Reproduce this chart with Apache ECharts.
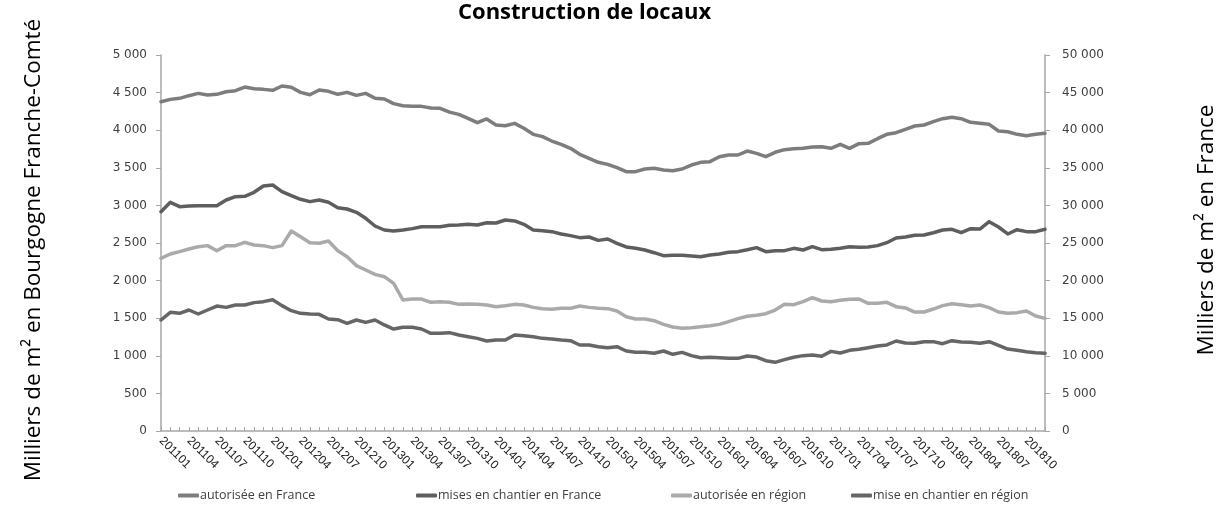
<!DOCTYPE html>
<html>
<head>
<meta charset="utf-8">
<script src="https://cdn.jsdelivr.net/npm/echarts@6/dist/echarts.min.js"></script>
<style>html,body{margin:0;padding:0;background:#fff;}#c{width:1219px;height:505px;}</style>
</head>
<body>
<div id="c"></div>
<script>
// Categories: months 201101 .. 201812
const categories = [];
for (let y = 2011; y <= 2018; y++) { for (let m = 1; m <= 12; m++) { categories.push(String(y) + (m < 10 ? '0' + m : m)); } }

const seriesNames = ['autorisée en France', 'mises en chantier en France', 'autorisée en région', 'mise en chantier en région'];

// France (right axis, milliers de m²)
const autoriseeFrance = [43790,44100,44240,44590,44900,44680,44770,45120,45260,45740,45520,45430,45300,45880,45700,45030,44720,45340,45170,44770,45030,44630,44900,44240,44150,43530,43260,43170,43170,42950,42910,42400,42110,41580,41000,41490,40690,40600,40910,40250,39450,39140,38560,38120,37590,36790,36260,35730,35460,35020,34490,34490,34840,34930,34710,34620,34840,35370,35730,35820,36480,36700,36700,37230,36920,36480,37060,37410,37540,37590,37770,37810,37590,38120,37590,38210,38250,38870,39450,39670,40110,40560,40690,41130,41530,41710,41530,41050,40910,40780,39890,39800,39450,39270,39450,39580];
const chantierFrance = [29170,30410,29830,29920,29960,29960,29960,30720,31160,31210,31740,32580,32710,31830,31290,30810,30500,30720,30410,29700,29520,29080,28280,27260,26730,26600,26730,26910,27170,27170,27170,27350,27390,27480,27390,27700,27660,28060,27930,27480,26730,26640,26510,26200,25980,25710,25800,25350,25530,24960,24470,24290,24070,23710,23320,23360,23360,23270,23180,23400,23540,23760,23850,24100,24380,23850,23980,23980,24290,24070,24510,24110,24160,24290,24510,24420,24470,24650,25040,25670,25800,26020,26060,26370,26730,26820,26370,26910,26860,27840,27130,26200,26770,26510,26510,26820];
// Région (left axis, milliers de m²)
const autoriseeRegion = [2296,2354,2385,2420,2451,2465,2398,2465,2465,2509,2473,2465,2438,2465,2660,2584,2504,2496,2527,2398,2318,2199,2141,2083,2052,1964,1742,1755,1755,1711,1720,1711,1684,1689,1684,1676,1653,1667,1684,1676,1644,1627,1618,1631,1631,1662,1644,1631,1627,1596,1520,1489,1489,1467,1418,1383,1365,1374,1387,1401,1418,1454,1494,1525,1538,1560,1609,1684,1680,1720,1773,1729,1720,1738,1751,1755,1698,1698,1711,1653,1636,1582,1582,1622,1667,1693,1680,1662,1676,1640,1582,1565,1574,1596,1529,1498];
const chantierRegion = [1476,1578,1565,1609,1556,1609,1662,1644,1676,1676,1707,1720,1746,1667,1600,1565,1556,1551,1489,1480,1432,1476,1445,1476,1410,1356,1379,1379,1356,1299,1299,1308,1277,1254,1232,1197,1210,1210,1277,1268,1254,1232,1223,1210,1201,1144,1144,1121,1108,1121,1064,1046,1046,1033,1064,1020,1046,1002,975,980,975,966,966,997,984,935,913,949,980,1002,1011,993,1059,1037,1073,1086,1108,1130,1144,1197,1170,1166,1188,1188,1161,1201,1184,1179,1166,1188,1139,1090,1073,1055,1042,1033];

const colors = ['#7d7d7d', '#5e5e5e', '#aaaaaa', '#666666'];
const legendLeft = [173, 411, 666, 846];

const fmt = v => String(v).replace(/\B(?=(\d{3})+(?!\d))/g, ' ');

const chart = echarts.init(document.getElementById('c'));
const axisLine = { show: true, lineStyle: { color: '#a6a6a6', width: 1.5 } };
const yLabel = { fontFamily: 'DejaVu Sans', fontSize: 12, color: '#404040', formatter: fmt };

const legends = seriesNames.map((n, i) => ({
  data: [n], left: legendLeft[i], top: 484, icon: 'roundRect', itemWidth: 21, itemHeight: 4, itemGap: 0,
  textStyle: { fontFamily: 'Open Sans', fontSize: 12.5, color: '#404040', padding: [0, 0, 0, -4] }
}));

const dataArr = [autoriseeFrance, chantierFrance, autoriseeRegion, chantierRegion];
const yIdx = [1, 1, 0, 0];

chart.setOption({
  animation: false,
  title: { text: 'Construction de locaux', left: 453, top: -3, textStyle: { fontFamily: 'Open Sans', fontWeight: 'bold', fontSize: 22, color: '#000' } },
  legend: legends,
  grid: { left: 161, right: 174, top: 55, bottom: 74, containLabel: false },
  xAxis: {
    type: 'category', data: categories, boundaryGap: false,
    axisLine: axisLine,
    axisTick: { show: true, inside: true, length: 4, interval: 0, lineStyle: { color: '#a6a6a6' } },
    axisLabel: { interval: 2, rotate: -45, fontFamily: 'Liberation Sans', fontSize: 12, color: '#202020', margin: 8 },
    splitLine: { show: false }
  },
  yAxis: [
    { type: 'value', min: 0, max: 5000, interval: 500, axisLine: axisLine, axisTick: { show: true, length: 5, lineStyle: { color: '#a6a6a6' } }, splitLine: { show: false }, axisLabel: Object.assign({ margin: 14 }, yLabel) },
    { type: 'value', min: 0, max: 50000, interval: 5000, position: 'right', axisLine: axisLine, axisTick: { show: true, length: 5, lineStyle: { color: '#a6a6a6' } }, splitLine: { show: false }, axisLabel: Object.assign({ margin: 17 }, yLabel) }
  ],
  series: seriesNames.map((n, i) => ({
    name: n, type: 'line', yAxisIndex: yIdx[i], data: dataArr[i], showSymbol: false, symbol: 'none',
    lineStyle: { color: colors[i], width: 3.5, cap: 'round', join: 'round' }, itemStyle: { color: colors[i] }
  })),
  graphic: [
    { type: 'text', x: 34, y: 250, rotation: Math.PI / 2, style: { text: 'Milliers de m² en Bourgogne Franche-Comté', fontFamily: 'Open Sans', fontSize: 22.5, fill: '#000', align: 'center', verticalAlign: 'middle' } },
    { type: 'text', x: 1207, y: 230, rotation: Math.PI / 2, style: { text: 'Milliers de m² en France', fontFamily: 'Open Sans', fontSize: 22.5, fill: '#000', align: 'center', verticalAlign: 'middle' } }
  ]
});
</script>
</body>
</html>
